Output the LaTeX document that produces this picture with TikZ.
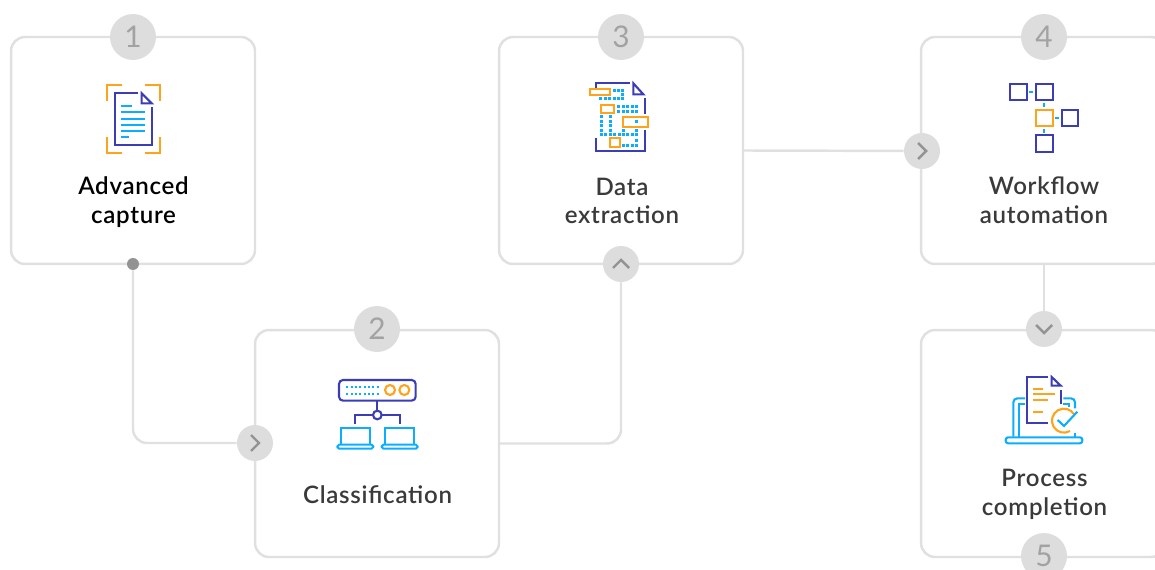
\documentclass[tikz,border=0pt]{standalone}
\usepackage{fontspec}
\setmainfont[LetterSpace=3]{Lato Semibold}
\newfontfamily\numfont{Lato}
\definecolor{edgegray}{HTML}{E0E0E0}
\definecolor{fillgray}{HTML}{DDDDDD}
\definecolor{numgray}{HTML}{A2A2A2}
\definecolor{chevgray}{HTML}{939393}
\definecolor{navyline}{HTML}{3A3DB4}
\definecolor{cyanline}{HTML}{0BAEFF}
\definecolor{orangeline}{HTML}{FFA31A}
\definecolor{labeltext}{HTML}{3A3A3A}
\tikzset{
  card/.style={draw=edgegray,line width=1.4pt,rounded corners=.28cm,minimum width=4.88cm,minimum height=4.54cm,inner sep=0pt},
  badge/.style={circle,fill=fillgray,minimum size=.92cm,inner sep=0pt,text=numgray,font=\numfont\fontsize{17}{17}\selectfont},
  chev/.style={circle,fill=fillgray,minimum size=.72cm,inner sep=0pt},
  chevline/.style={chevgray,line width=1.4pt},
  link/.style={draw=edgegray,line width=1.4pt,rounded corners=.28cm},
  lbl/.style={align=center,text=labeltext,font=\fontsize{13.7}{16.4}\selectfont},
  navy/.style={navyline,line width=1.2pt},
  cyan/.style={cyanline,line width=1.2pt},
  orange/.style={orangeline,line width=1.2pt}
}
\newcommand{\chevmark}[2]{\draw[chevline,shift={(#1.center)},rotate=#2] (-4,-8) -- (4,0) -- (-4,8);}
\begin{document}
\begin{tikzpicture}[x=.02cm,y=-.02cm]
\path[use as bounding box,clip] (0,0) rectangle (1155,570);

% cards
\node[card] (cardA) at (133,150.5) {};
\node[card] (cardB) at (377,443.5) {};
\node[card] (cardC) at (621,150.5) {};
\node[card] (cardD) at (1043,150.5) {};
\node[card] (cardE) at (1043,443.5) {};

% number badges
\node[badge] (numA) at (133,37) {1};
\node[badge] (numB) at (377,329) {2};
\node[badge] (numC) at (621,37) {3};
\node[badge] (numD) at (1044,37) {4};
\node[badge] (numE) at (1044,556) {5};

% connector ends
\node[circle,fill=chevgray,minimum size=.24cm,inner sep=0pt] (startdot) at (133,264) {};
\node[chev] (chevB) at (255,443) {};
\node[chev] (chevC) at (621,264) {};
\node[chev] (chevD) at (922,151) {};
\node[chev] (chevE) at (1044,329) {};
\chevmark{chevB}{0}
\chevmark{chevC}{90}
\chevmark{chevD}{0}
\chevmark{chevE}{-90}

% connectors
\draw[link] (startdot) |- (chevB);
\draw[link] (cardB.east) -| (chevC);
\draw[link] (cardC.east) -- (chevD);
\draw[link] (chevE |- cardD.south) -- (chevE);

% labels
\node[lbl,text=black] (textA) at (133.5,202) {Advanced\\capture};
\node[lbl] (textB) at (377.5,495) {Classification};
\node[lbl] (textC) at (622,201) {Data\\extraction};
\node[lbl] (textD) at (1044,200.5) {Workflow\\automation};
\node[lbl] (textE) at (1044.5,494.5) {Process\\completion};

% icon 1
\begin{scope}[shift={(90,70)},scale=1/3]
\draw[orange] (50,93) -- (50,45) -- (95,45);
\draw[orange] (165,45) -- (210,45) -- (210,93);
\draw[orange] (50,201) -- (50,250) -- (95,250);
\draw[orange] (165,250) -- (210,250) -- (210,201);
\draw[navy] (145,70) -- (74,70) -- (74,225) -- (186,225) -- (186,110);
\draw[navy] (155,70) -- (155,100) -- (185,100) -- cycle;
\draw[cyan] (93,108) -- (127,108);
\foreach \y in {127,146,164,183}
  \draw[cyan] (93,\y) -- (165,\y);
\draw[cyan] (93,202) -- (117,202);
\end{scope}

% icon 2
\begin{scope}[shift={(325,370)},scale=1/3]
\draw[navy,rounded corners=.08cm] (42,30) rectangle (272,92);
\foreach \y in {50,72}
  \foreach \x in {67,80,...,160}
    \fill[cyanline] (\x-3,\y-3) rectangle (\x+3,\y+3);
\draw[orange] (195,60) circle (15);
\draw[orange] (238,60) circle (15);
\draw[navy] (157,92) -- (157,122);
\draw[navy] (157,135) circle (13);
\draw[navy] (144,135) -- (90,135) -- (90,162);
\draw[navy] (170,135) -- (224,135) -- (224,162);
\draw[cyan] (47,222) -- (47,174) -- (135,174) -- (135,222);
\draw[cyan,rounded corners=.035cm] (37,224) rectangle (145,236);
\draw[cyan] (180,222) -- (180,174) -- (268,174) -- (268,222);
\draw[cyan,rounded corners=.035cm] (170,224) rectangle (278,236);
\end{scope}

% icon 3
\begin{scope}[shift={(580,75)},scale=1/3]
\draw[navy] (47,40) -- (47,25) -- (150,25);
\draw[navy] (47,190) -- (47,228) -- (195,228) -- (195,165);
\draw[navy] (195,70) -- (195,118);
\draw[navy] (160,25) -- (160,58) -- (190,58) -- cycle;
\foreach \x/\y in {102/46,115/46,128/46,128/59,62/72,75/72,88/72,102/72,115/72,128/72,
  115/95,129/95,143/95,156/95,170/95,115/110,129/110,143/110,156/110,170/110,
  65/125,90/125,65/139,90/139,170/139,65/152,90/152,65/166,90/166,130/166,170/166,
  65/179,75/179,90/179,103/179,117/179,130/179,143/179,156/179,170/179,170/197,
  130/211,143/211,156/211,170/211}
  \fill[cyanline] (\x-4.5,\y-4.5) rectangle (\x+4.5,\y+4.5);
\draw[orange] (30,43) rectangle (90,60);
\draw[orange] (62,90) rectangle (102,115);
\draw[orange] (130,127) rectangle (204,155);
\draw[orange] (90,190) rectangle (120,216);
\end{scope}

% icon 4
\begin{scope}[shift={(1000,75)},scale=1/3]
\draw[navy] (30,27) rectangle (80,75);
\draw[navy] (108,27) rectangle (158,75);
\draw[orange] (108,104) rectangle (158,153);
\draw[navy] (185,104) rectangle (235,153);
\draw[navy] (108,181) rectangle (158,230);
\draw[cyan] (88,51) -- (100,51);
\draw[cyan] (133,84) -- (133,96);
\draw[cyan] (165,128) -- (177,128);
\draw[cyan] (133,161) -- (133,173);
\end{scope}

% icon 5
\begin{scope}[shift={(995,365)},scale=1/3]
\draw[cyan,rounded corners=.08cm] (55,215) -- (55,100) -- (90,100);
\draw[cyan] (72,215) -- (72,118) -- (90,118);
\draw[cyan,rounded corners=.08cm] (205,100) -- (240,100) -- (240,130);
\draw[cyan] (205,118) -- (222,118) -- (222,126);
\draw[cyan] (240,203) -- (240,215);
\draw[cyan,rounded corners=.05cm] (32,217) rectangle (262,235);
\draw[navy] (160,36) -- (97,36) -- (97,175) -- (160,175);
\draw[navy] (197,75) -- (197,118);
\draw[navy] (170,36) -- (170,62) -- (197,62) -- cycle;
\draw[orange] (115,72) -- (145,72);
\draw[orange] (115,88) -- (180,88);
\draw[orange] (115,105) -- (160,105);
\draw[orange] (115,140) -- (145,140);
\draw[orange] (238,149) arc[start angle=-30,end angle=-300,radius=36];
\draw[cyan] (188,165) -- (207,183) -- (247,140);
\end{scope}

\end{tikzpicture}
\end{document}
